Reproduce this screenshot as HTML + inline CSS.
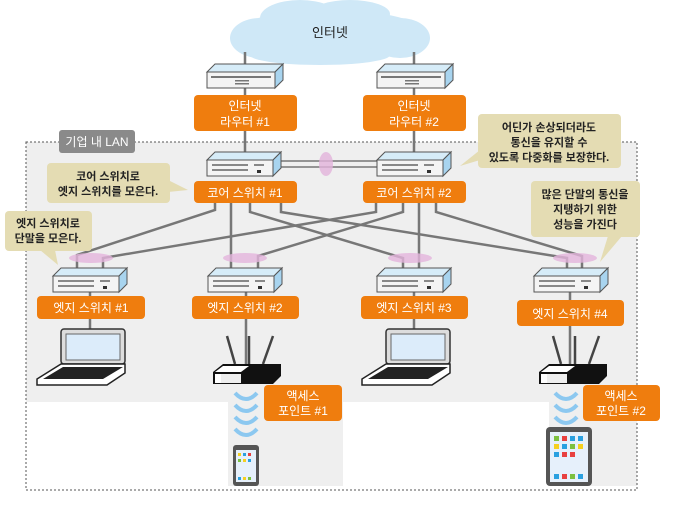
<!DOCTYPE html>
<html><head><meta charset="utf-8"><style>
html,body{margin:0;padding:0;background:#fff}
svg text{font-family:"Liberation Sans","Noto Sans CJK KR",sans-serif}
</style></head><body>
<svg width="681" height="502" viewBox="0 0 681 502" xmlns="http://www.w3.org/2000/svg">
<defs>
<g id="sw">
<polygon points="0,8 8,0 74,0 66,8" fill="#d6ecf8" stroke="#555" stroke-width="1"/>
<polygon points="66,8 74,0 74,16 66,24" fill="#a8d4ef" stroke="#555" stroke-width="1"/>
<rect x="0" y="8" width="66" height="16" fill="#f4f4f4" stroke="#555" stroke-width="1"/>
<g fill="#888"><rect x="5" y="12" width="36" height="2"/><rect x="5" y="17" width="36" height="2"/><rect x="47" y="12" width="10" height="2"/><rect x="50" y="18" width="4" height="3" fill="#333"/></g>
</g>
<g id="rt">
<polygon points="0,8 8,0 76,0 68,8" fill="#d6ecf8" stroke="#555"/>
<polygon points="68,8 76,0 76,16 68,24" fill="#a8d4ef" stroke="#555"/>
<rect x="0" y="8" width="68" height="16" fill="#f4f4f4" stroke="#555"/>
<g fill="#777"><rect x="4" y="12" width="60" height="2"/><rect x="28" y="16" width="14" height="1.5"/><rect x="28" y="19" width="14" height="1.5"/></g>
</g>
<g id="lap">
<rect x="24" y="0" width="64" height="35" rx="3" fill="#ddd" stroke="#333" stroke-width="1.5"/>
<rect x="29" y="5" width="54" height="26" fill="#dcecfa" stroke="#666"/>
<polygon points="24,35 88,35 88,44 70,56 0,56 0,50" fill="#fff" stroke="#222" stroke-width="1.5"/>
<polygon points="26,38 86,38 66,50 6,50" fill="#222"/>
</g>
<g id="ap">
<line x1="14" y1="0" x2="22" y2="28" stroke="#444" stroke-width="2.5"/>
<line x1="36" y1="0" x2="36" y2="28" stroke="#444" stroke-width="2.5"/>
<line x1="60" y1="0" x2="50" y2="28" stroke="#444" stroke-width="2.5"/>
<polygon points="0,36 10,28 68,28 68,40 60,48 0,48" fill="#111"/>
<polygon points="2,36 10,30 36,30 28,36" fill="#fff"/>
<rect x="2" y="38" width="26" height="9" fill="#fff"/>
<rect x="8" y="38" width="20" height="9" fill="#eee"/>
</g>
<g id="wave" fill="none" stroke="#8cc8f0" stroke-width="4">
<path d="M0,0 Q11,12 22,0"/><path d="M0,12 Q11,24 22,12"/><path d="M0,24 Q11,36 22,24"/><path d="M0,36 Q11,48 22,36"/>
</g>
</defs>

<!-- LAN area -->
<rect x="26" y="142" width="611" height="260" fill="#efefef"/>
<rect x="228" y="376" width="115" height="110" fill="#efefef"/>
<rect x="549" y="376" width="88" height="110" fill="#efefef"/>
<rect x="26" y="142" width="611" height="348" fill="none" stroke="#555" stroke-dasharray="2,2" stroke-width="1"/>
<rect x="59" y="130" width="76" height="23" rx="3" fill="#8a8a8a"/>
<text x="97" y="146" font-size="12" fill="#fff" text-anchor="middle">기업 내 LAN</text>

<!-- cloud -->
<g fill="#cfe8f7">
<ellipse cx="330" cy="34" rx="96" ry="24"/><ellipse cx="300" cy="18" rx="40" ry="18"/><ellipse cx="350" cy="14" rx="40" ry="14"/><ellipse cx="260" cy="38" rx="30" ry="20"/><ellipse cx="400" cy="38" rx="30" ry="20"/><ellipse cx="320" cy="55" rx="70" ry="10"/>
</g>
<text x="330" y="37" font-size="13" text-anchor="middle" fill="#222">인터넷</text>

<!-- vertical lines -->
<g stroke="#777" stroke-width="2.5" fill="none">
<line x1="245" y1="52" x2="245" y2="160"/><line x1="414" y1="52" x2="414" y2="160"/>
<line x1="280" y1="161" x2="378" y2="161" stroke-width="1.5"/><line x1="280" y1="167" x2="378" y2="167" stroke-width="1.5"/>
<polyline points="215,200 215,210 77,255 77,270"/>
<polyline points="231,200 231,270"/>
<polyline points="250,200 250,212 403,258 403,270"/>
<polyline points="281,200 281,212 567,258 567,270"/>
<polyline points="376,200 376,212 103,258 103,270"/>
<polyline points="403,200 403,212 258,256 258,270"/>
<polyline points="419,200 419,270"/>
<polyline points="436,200 436,212 582,256 582,270"/>
<line x1="90" y1="290" x2="90" y2="332"/><line x1="246" y1="290" x2="246" y2="366"/><line x1="414" y1="290" x2="414" y2="332"/><line x1="570" y1="290" x2="570" y2="366"/>
</g>
<g fill="#e3b4dc" opacity="0.8">
<ellipse cx="326" cy="164" rx="7" ry="12"/>
<ellipse cx="91" cy="258" rx="22" ry="5"/><ellipse cx="245" cy="258" rx="22" ry="5"/><ellipse cx="410" cy="258" rx="22" ry="5"/><ellipse cx="575" cy="258" rx="22" ry="5"/>
</g>

<use href="#rt" x="207" y="64"/><use href="#rt" x="377" y="64"/>
<use href="#sw" x="207" y="152"/><use href="#sw" x="377" y="152"/>
<use href="#sw" x="53" y="268"/><use href="#sw" x="208" y="268"/><use href="#sw" x="377" y="268"/><use href="#sw" x="534" y="268"/>

<!-- orange labels -->
<g fill="#ef7d0e">
<rect x="194" y="95" width="103" height="36" rx="4"/><rect x="363" y="95" width="103" height="36" rx="4"/>
<rect x="194" y="181" width="103" height="22" rx="4"/><rect x="363" y="181" width="103" height="22" rx="4"/>
<rect x="37" y="296" width="108" height="23" rx="4"/><rect x="192" y="296" width="107" height="23" rx="4"/><rect x="361" y="296" width="107" height="23" rx="4"/><rect x="517" y="300" width="107" height="26" rx="4"/>
<rect x="264" y="385" width="78" height="36" rx="4"/><rect x="583" y="385" width="77" height="36" rx="4"/>
</g>
<g fill="#fff" font-size="12" text-anchor="middle">
<text x="245" y="110">인터넷</text><text x="245" y="126">라우터 #1</text>
<text x="414" y="110">인터넷</text><text x="414" y="126">라우터 #2</text>
<text x="245" y="197">코어 스위치 #1</text><text x="414" y="197">코어 스위치 #2</text>
<text x="91" y="312">엣지 스위치 #1</text><text x="245" y="312">엣지 스위치 #2</text><text x="414" y="312">엣지 스위치 #3</text><text x="570" y="318">엣지 스위치 #4</text>
<text x="303" y="400">액세스</text><text x="303" y="415">포인트 #1</text>
<text x="621" y="400">액세스</text><text x="621" y="415">포인트 #2</text>
</g>

<!-- callouts -->
<g fill="#e4dcb3">
<rect x="478" y="114" width="143" height="54" rx="4"/><polygon points="480,150 480,160 460,166"/>
<rect x="47" y="163" width="123" height="40" rx="4"/><polygon points="168,180 168,192 188,190"/>
<rect x="5" y="211" width="87" height="40" rx="4"/><polygon points="40,250 55,250 58,265"/>
<rect x="531" y="181" width="109" height="56" rx="4"/><polygon points="608,236 622,236 600,262"/>
</g>
<g fill="#222" font-size="11" font-weight="bold" text-anchor="middle">
<text x="549" y="131">어딘가 손상되더라도</text><text x="549" y="146">통신을 유지할 수</text><text x="549" y="161">있도록 다중화를 보장한다.</text>
<text x="108" y="180">코어 스위치로</text><text x="108" y="195">엣지 스위치를 모은다.</text>
<text x="48" y="227">엣지 스위치로</text><text x="48" y="242">단말을 모은다.</text>
<text x="585" y="198">많은 단말의 통신을</text><text x="585" y="213">지탱하기 위한</text><text x="585" y="228">성능을 가진다</text>
</g>

<use href="#lap" x="37" y="329"/><use href="#lap" x="362" y="329"/>
<use href="#ap" x="213" y="336"/><use href="#ap" x="539" y="336"/>
<use href="#wave" x="235" y="393"/><use href="#wave" x="555" y="393" transform="translate(0,0)"/>

<!-- phone -->
<rect x="233" y="445" width="26" height="41" rx="3" fill="#555"/>
<rect x="236" y="450" width="20" height="32" fill="#e6f0fb"/>
<g><rect x="238" y="453" width="3" height="3" fill="#f5d020"/><rect x="243" y="453" width="3" height="3" fill="#2aa0e0"/><rect x="248" y="453" width="3" height="3" fill="#e84040"/><rect x="238" y="459" width="3" height="3" fill="#7cc040"/><rect x="243" y="459" width="3" height="3" fill="#f5d020"/><rect x="248" y="459" width="3" height="3" fill="#2aa0e0"/><rect x="238" y="477" width="3" height="3" fill="#2aa0e0"/><rect x="243" y="477" width="3" height="3" fill="#f5d020"/><rect x="248" y="477" width="3" height="3" fill="#7cc040"/></g>
<!-- tablet -->
<rect x="546" y="427" width="46" height="59" rx="4" fill="#555"/>
<rect x="550" y="432" width="38" height="50" fill="#e6f0fb"/>
<g>
<rect x="554" y="436" width="5" height="5" fill="#7cc040"/><rect x="562" y="436" width="5" height="5" fill="#e84040"/><rect x="570" y="436" width="5" height="5" fill="#2aa0e0"/><rect x="578" y="436" width="5" height="5" fill="#2aa0e0"/>
<rect x="554" y="444" width="5" height="5" fill="#f5d020"/><rect x="562" y="444" width="5" height="5" fill="#2aa0e0"/><rect x="570" y="444" width="5" height="5" fill="#7cc040"/><rect x="578" y="444" width="5" height="5" fill="#f5d020"/>
<rect x="554" y="452" width="5" height="5" fill="#2aa0e0"/><rect x="562" y="452" width="5" height="5" fill="#e84040"/><rect x="570" y="452" width="5" height="5" fill="#e84040"/>
<rect x="554" y="474" width="5" height="5" fill="#2aa0e0"/><rect x="562" y="474" width="5" height="5" fill="#e84040"/><rect x="570" y="474" width="5" height="5" fill="#7cc040"/><rect x="578" y="474" width="5" height="5" fill="#2aa0e0"/>
</g>
</svg>
</body></html>
